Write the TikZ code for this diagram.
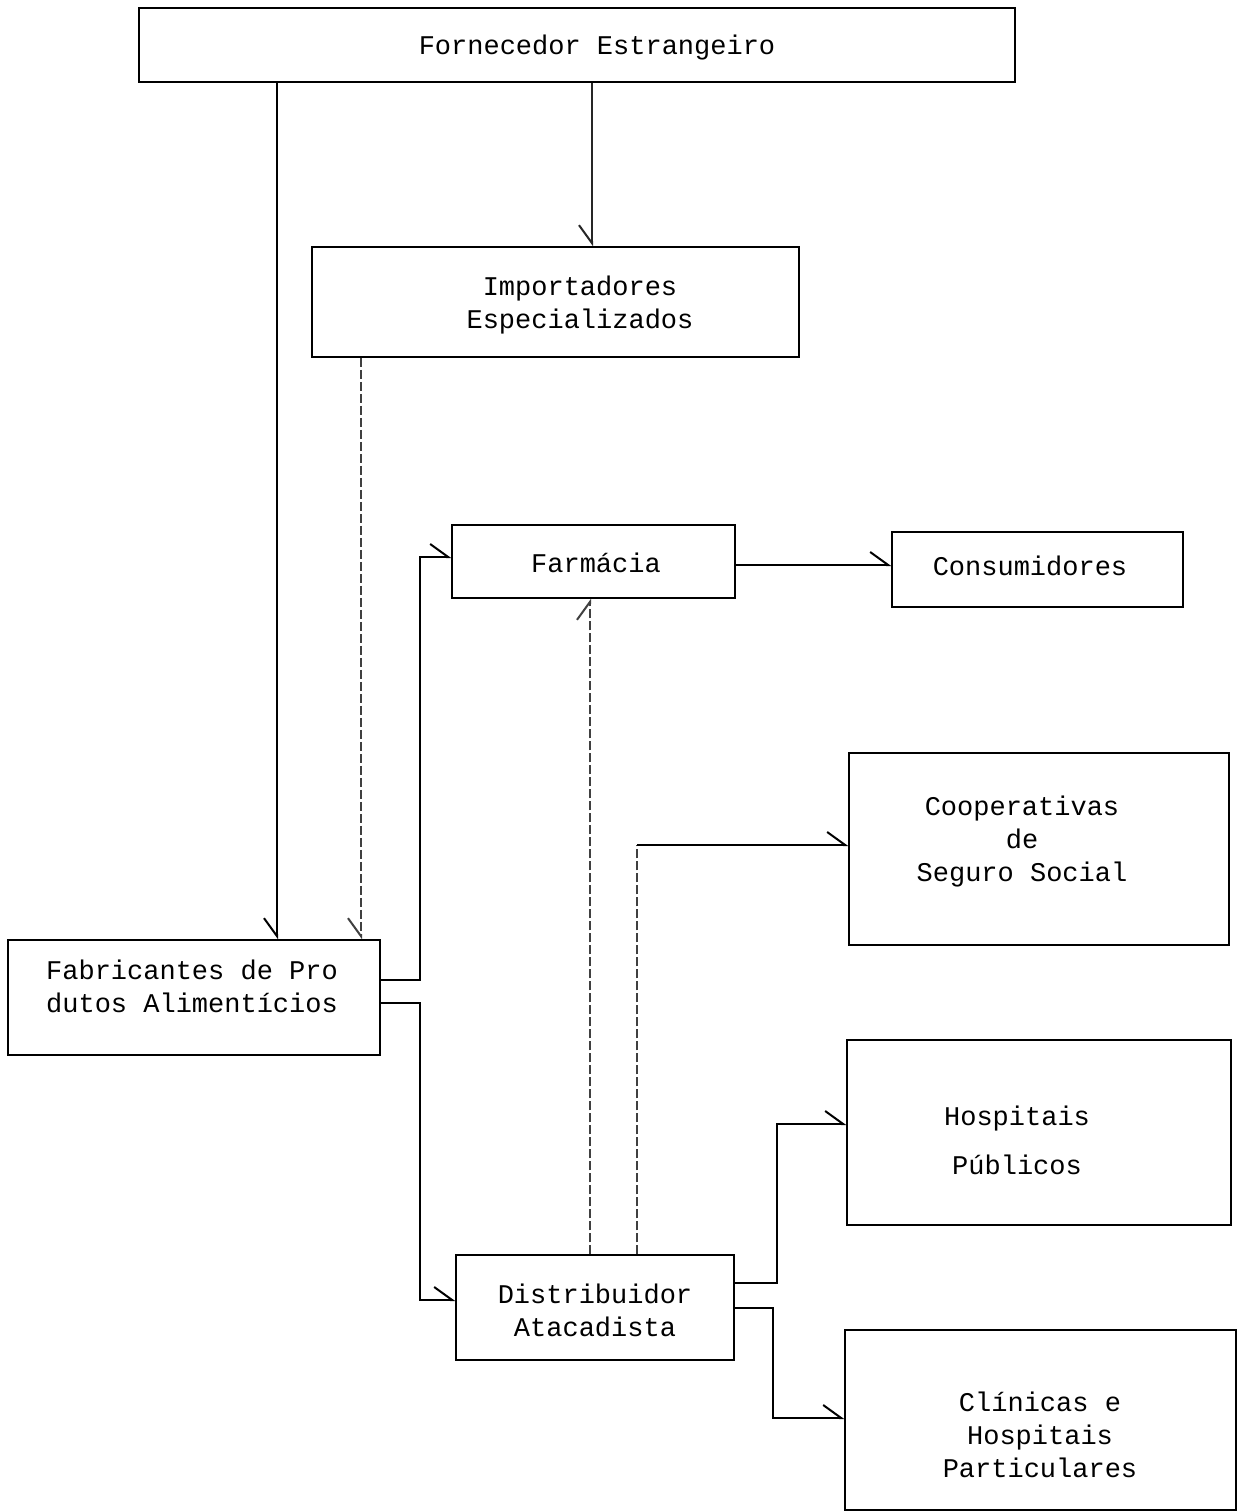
\documentclass[tikz,border=0pt]{standalone}
\usepackage{fontspec}
\setmonofont{Liberation Mono}
\usetikzlibrary{arrows.meta,calc}
\begin{document}
\begin{tikzpicture}[x=1pt,y=-1pt,
  box/.style={draw,line width=1.5pt,inner sep=0pt},
  lbl/.style={font=\ttfamily\fontsize{27}{33}\selectfont,align=center,inner sep=0pt},
  conn/.style={line width=1.5pt},
  thinconn/.style={line width=1.1pt,black!85},
  faint/.style={line width=1.2pt,black!75,dash pattern=on 9pt off 3pt},
  tipL/.style={-{Straight Barb[harpoon,length=18pt,width=26pt,line width=2pt]}},
  tipR/.style={-{Straight Barb[harpoon,swap,length=18pt,width=26pt,line width=2pt]}}]
\useasboundingbox[fill=white] (0,0) rectangle (1238,1512);
% boxes
\node[box,minimum width=876pt,minimum height=74pt] (forn) at (577,45) {};
\node[box,minimum width=487pt,minimum height=110pt] (imp) at (555.5,302) {};
\node[box,minimum width=283pt,minimum height=73pt] (farm) at (593.5,561.5) {};
\node[box,minimum width=291pt,minimum height=75pt] (cons) at (1037.5,569.5) {};
\node[box,minimum width=380pt,minimum height=192pt] (coop) at (1039,849) {};
\node[box,minimum width=372pt,minimum height=115pt] (fab) at (194,997.5) {};
\node[box,minimum width=384pt,minimum height=185pt] (hosp) at (1039,1132.5) {};
\node[box,minimum width=278pt,minimum height=105pt] (dist) at (595,1307.5) {};
\node[box,minimum width=391pt,minimum height=180pt] (clin) at (1040.5,1420) {};
% labels
\node[lbl] (tforn) at (597,48) {Fornecedor Estrangeiro};
\node[lbl] (timp) at (580,305) {Importadores\\Especializados};
\node[lbl] (tfarm) at (596,563) {Farmácia};
\node[lbl] (tcons) at (1030,566) {Consumidores};
\node[lbl] (tcoop) at (1022,842) {Cooperativas\\de\\Seguro Social};
\node[lbl,align=left] (tfab) at (192,986) {Fabricantes de Pro\\dutos Alimentícios};
\node[lbl] (thosp) at (1017,1140) {Hospitais\\\\[-17pt]Públicos};
\node[lbl] (tdist) at (595,1310) {Distribuidor\\Atacadista};
\node[lbl] (tclin) at (1040,1435) {Clínicas e\\Hospitais\\Particulares};
% helper coordinates
\coordinate (xa) at (277,0);
\coordinate (xb) at (592,0);
\coordinate (xc) at (361,0);
\coordinate (xd) at (420,0);
\coordinate (xe) at (590,0);
\coordinate (xf) at (637,0);
\coordinate (xg) at (777,0);
\coordinate (xh) at (773,0);
\coordinate (y1) at (0,980);
\coordinate (y2) at (0,1003);
\coordinate (y3) at (0,557);
\coordinate (y4) at (0,1300);
\coordinate (y5) at (0,565);
\coordinate (y6) at (0,845);
\coordinate (y7) at (0,1283);
\coordinate (y8) at (0,1124);
\coordinate (y9) at (0,1308);
\coordinate (y10) at (0,1418);
% connectors
\draw[conn,tipR] (forn.south -| xa) -- (fab.north -| xa);
\draw[thinconn,tipR] (forn.south -| xb) -- (imp.north -| xb);
\draw[faint,tipR] (imp.south -| xc) -- (fab.north -| xc);
\draw[conn,tipL] (fab.east |- y1) -| (xd |- y3) -- (farm.west |- y3);
\draw[conn,tipL] (fab.east |- y2) -| (xd |- y4) -- (dist.west |- y4);
\draw[faint,tipL] (dist.north -| xe) -- (farm.south -| xe);
\draw[conn,tipL] (farm.east |- y5) -- (cons.west |- y5);
\draw[faint] (dist.north -| xf) -- (xf |- y6);
\draw[conn,tipL] (xf |- y6) -- (coop.west |- y6);
\draw[conn,tipL] (dist.east |- y7) -| (xg |- y8) -- (hosp.west |- y8);
\draw[conn,tipL] (dist.east |- y9) -| (xh |- y10) -- (clin.west |- y10);
\end{tikzpicture}
\end{document}
